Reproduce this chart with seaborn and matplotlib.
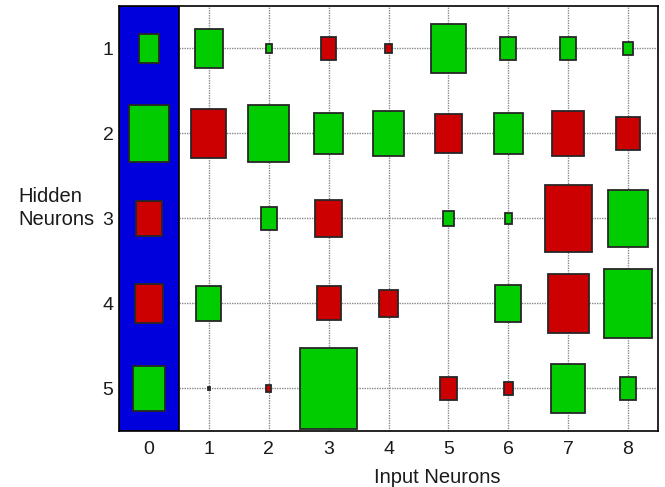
import matplotlib
matplotlib.use("Agg")
import matplotlib.pyplot as plt
from matplotlib.patches import Rectangle
import seaborn as sns

# Hinton diagram: signed weights, box side (fraction of a cell) = |w|
input_neurons = [0, 1, 2, 3, 4, 5, 6, 7, 8]
hidden_neurons = [1, 2, 3, 4, 5]
h1 = [0.34, 0.46, 0.10, -0.26, -0.11, 0.58, 0.27, 0.27, 0.16]
h2 = [0.68, -0.58, 0.68, 0.49, 0.53, -0.45, 0.49, -0.54, -0.39]
h3 = [-0.42, 0.0, 0.27, -0.44, 0.0, 0.18, 0.12, -0.79, 0.66]
h4 = [-0.46, 0.42, 0.0, -0.40, -0.31, 0.0, 0.44, -0.69, 0.81]
h5 = [0.52, 0.03, -0.09, 0.96, 0.0, -0.28, -0.15, 0.57, 0.28]
weights = [h1, h2, h3, h4, h5]

POS = "#00cc00"
NEG = "#cc0000"
BIAS = "#0000dd"
TXT = "#1a1a1a"

sns.set_theme(style="whitegrid")
plt.rcParams["font.family"] = ["Liberation Sans", "DejaVu Sans"]

fig = plt.figure(figsize=(6.65, 4.87), dpi=100)
ax = fig.add_axes([119 / 665, 1 - 431 / 487, 539 / 665, 425 / 487])
ax.set_facecolor("white")

# bias column
ax.add_patch(Rectangle((-0.5, 0.5), 1.0, 5.0, facecolor=BIAS,
                       edgecolor="black", lw=1.2, zorder=2))

for row, w_row in zip(hidden_neurons, weights):
    for col, w in zip(input_neurons, w_row):
        if w == 0:
            continue
        s = abs(w)
        ax.add_patch(Rectangle((col - s / 2, row - s / 2), s, s,
                               facecolor=POS if w > 0 else NEG,
                               edgecolor="#262626", lw=1.3, zorder=3))

ax.set_xlim(-0.5, 8.5)
ax.set_ylim(5.5, 0.5)
ax.set_xticks(input_neurons)
ax.set_yticks(hidden_neurons)
ax.grid(True, color="#8a8a8a", linestyle=(0, (1, 0.8)), linewidth=1.0)
ax.set_axisbelow(True)
for sp in ax.spines.values():
    sp.set_color("black")
    sp.set_linewidth(1.2)
ax.tick_params(axis="x", labelsize=14, pad=7, length=0, colors=TXT)
ax.tick_params(axis="y", labelsize=14, pad=4, length=0, colors=TXT)

fig.text(437 / 665, 1 - 483 / 487, "Input Neurons", fontsize=14.5,
         color=TXT, ha="center", va="baseline")
fig.text(18 / 665, 1 - 202 / 487, "Hidden", fontsize=14.5,
         color=TXT, ha="left", va="baseline")
fig.text(18 / 665, 1 - 225 / 487, "Neurons", fontsize=14.5,
         color=TXT, ha="left", va="baseline")

fig.savefig("out.png", dpi=100)
